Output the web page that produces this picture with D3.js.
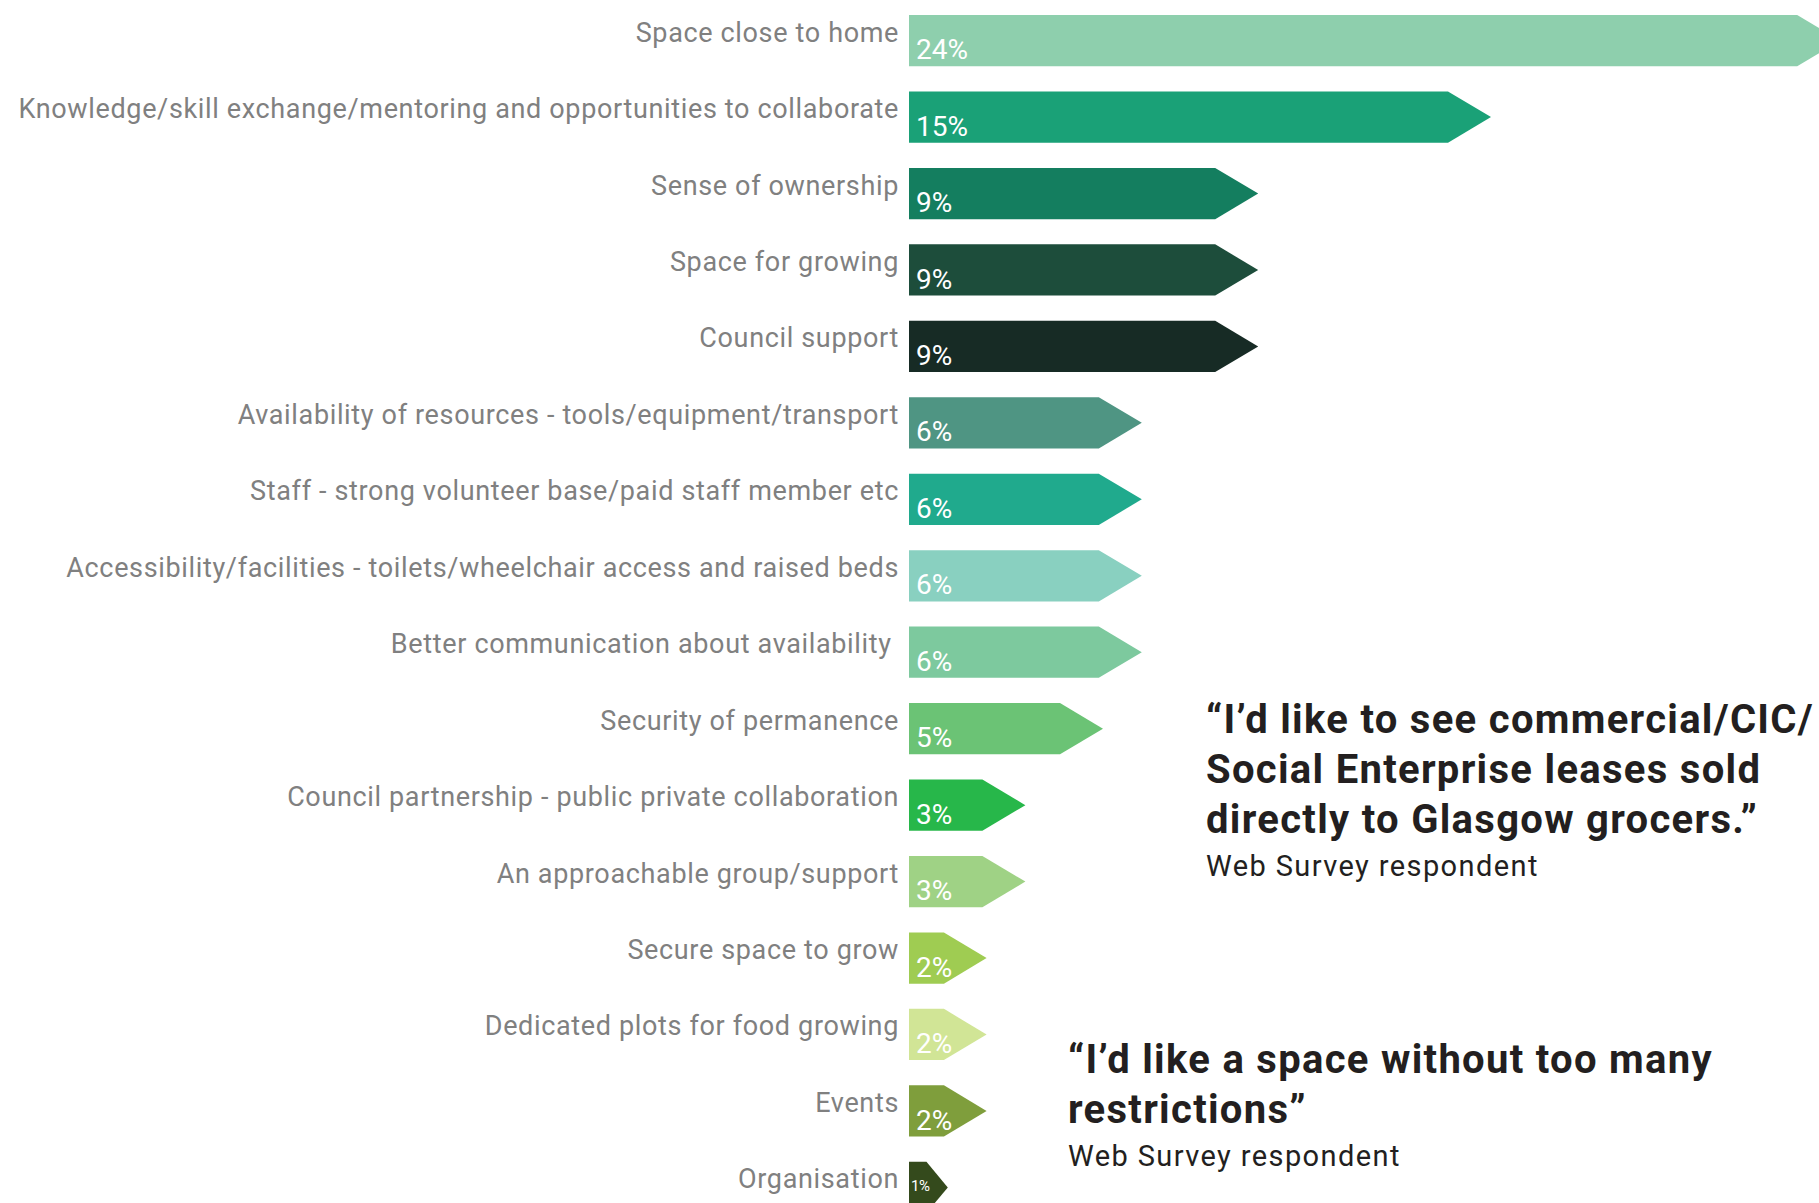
<!DOCTYPE html>
<html>
<head>
<meta charset="utf-8">
<script src="https://cdn.jsdelivr.net/npm/d3@7"></script>
<style>
  html, body { margin: 0; padding: 0; background: #ffffff; }
  svg { display: block; }
  text { font-family: Roboto, "Noto Sans", sans-serif; }
</style>
</head>
<body>
<svg id="chart" width="1819" height="1203"></svg>
<script>
// Survey responses: what would help a growing space succeed
const categories = [
  "Space close to home",
  "Knowledge/skill exchange/mentoring and opportunities to collaborate",
  "Sense of ownership",
  "Space for growing",
  "Council support",
  "Availability of resources - tools/equipment/transport",
  "Staff - strong volunteer base/paid staff member etc",
  "Accessibility/facilities - toilets/wheelchair access and raised beds",
  "Better communication about availability ",
  "Security of permanence",
  "Council partnership - public private collaboration",
  "An approachable group/support",
  "Secure space to grow",
  "Dedicated plots for food growing",
  "Events",
  "Organisation"
];
const percents = [24, 15, 9, 9, 9, 6, 6, 6, 6, 5, 3, 3, 2, 2, 2, 1];
const barColors = [
  "#8ecfad", "#1aa177", "#147e5f", "#1d4d3b", "#172b25", "#4f9583",
  "#20aa8d", "#89d0c0", "#7dc99e", "#6bc375", "#27b74a", "#9fd285",
  "#9fcc52", "#d1e596", "#7f9e3c", "#344a1c"
];
const quotes = [
  { lines: ["\u201CI\u2019d like to see commercial/CIC/", "Social Enterprise leases sold", "directly to Glasgow grocers.\u201D"], source: "Web Survey respondent" },
  { lines: ["\u201CI\u2019d like a space without too many", "restrictions\u201D"], source: "Web Survey respondent" }
];

const data = categories.map((c, i) => ({ label: c, value: percents[i], color: barColors[i] }));

const svg = d3.select("#chart");

const y = d3.scaleBand()
  .domain(categories)
  .range([15, 1213])
  .paddingInner(0.33)
  .paddingOuter(0);

const x = d3.scaleLinear()
  .domain([0, 24])
  .range([909, 909 + 24 * 38.8]);

const headMax = 43;

function arrowPath(d) {
  const x0 = x(0), x1 = x(d.value);
  const top = y(d.label), h = y.bandwidth(), bot = top + h, mid = top + h / 2;
  const head = Math.min(headMax, (x1 - x0) * 0.55);
  return `M${x0},${top}L${x1 - head},${top}L${x1},${mid}L${x1 - head},${bot}L${x0},${bot}Z`;
}

const rows = svg.append("g").attr("class", "rows")
  .selectAll("g").data(data).join("g");

rows.append("path")
  .attr("d", arrowPath)
  .attr("fill", d => d.color);

// category labels, right-aligned against the bar start
rows.append("text")
  .attr("x", x(0) - 10)
  .attr("y", d => y(d.label) + y.bandwidth() / 2 + 1)
  .attr("text-anchor", "end")
  .attr("fill", "#808080")
  .attr("font-size", 27)
  .attr("letter-spacing", 0.65)
  .style("white-space", "pre")
  .text(d => d.label);

// value labels inside the arrows; the tiny last arrow gets a smaller, centred label
rows.append("text")
  .attr("x", d => d.value < 2 ? x(0) + 2 : x(0) + 7)
  .attr("y", d => d.value < 2
    ? y(d.label) + y.bandwidth() / 2 + 4
    : y(d.label) + y.bandwidth() - 7)
  .attr("fill", "#ffffff")
  .attr("font-size", d => d.value < 2 ? 15 : 28)
  .attr("letter-spacing", d => d.value < 2 ? -0.5 : 0)
  .text(d => d.value + "%");

// respondent quotes
const quoteBlocks = [
  { x: 1206, y: 733 },
  { x: 1068, y: 1073 }
];
quotes.forEach((q, qi) => {
  const g = svg.append("g").attr("class", "quote");
  const b = quoteBlocks[qi];
  q.lines.forEach((line, li) => {
    g.append("text")
      .attr("x", b.x)
      .attr("y", b.y + li * 50)
      .attr("fill", "#231f20")
      .attr("font-size", 40)
      .attr("font-weight", 700)
      .attr("letter-spacing", 1.3)
      .text(line);
  });
  g.append("text")
    .attr("x", b.x)
    .attr("y", b.y + (q.lines.length - 1) * 50 + 43)
    .attr("fill", "#231f20")
    .attr("font-size", 29)
    .attr("letter-spacing", 1.4)
    .text(q.source);
});
</script>
</body>
</html>
